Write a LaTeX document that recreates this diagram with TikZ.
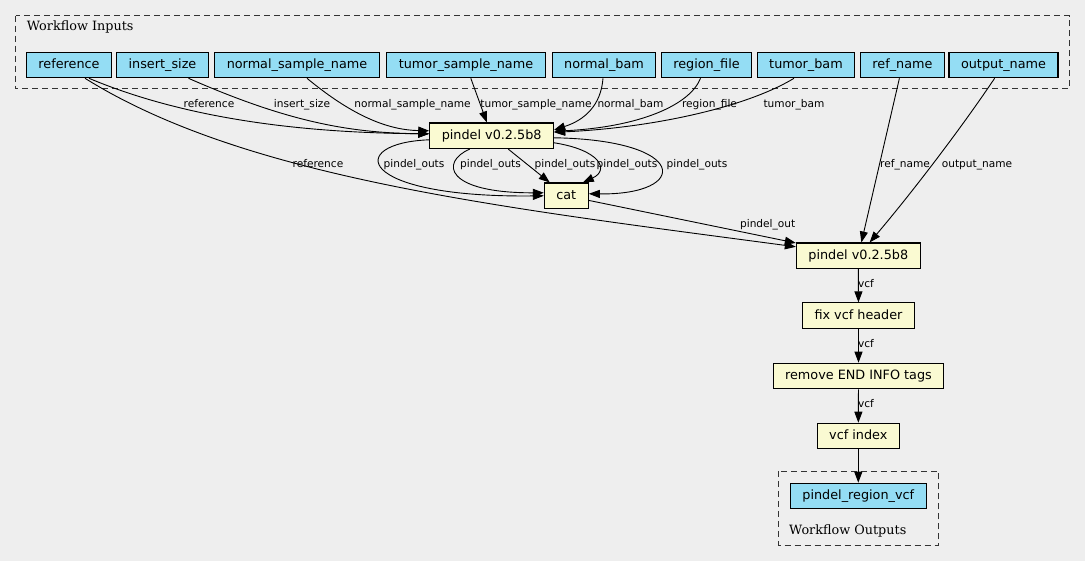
\documentclass[tikz,border=0pt]{standalone}
\usepackage{fontspec}
\setmainfont{DejaVu Serif}
\setsansfont{DejaVu Sans}
\usetikzlibrary{arrows.meta}
\definecolor{bggray}{HTML}{EEEEEE}
\definecolor{inblue}{HTML}{94DDF4}
\definecolor{stepyellow}{HTML}{FAFAD2}
\newcommand{\nodefont}{\sffamily\fontsize{12.8}{14}\selectfont}
\newcommand{\edgefont}{\sffamily\fontsize{10.6}{12}\selectfont}
\newcommand{\clusfont}{\rmfamily\fontsize{12.8}{14}\selectfont}

\begin{document}
\begin{tikzpicture}[x=1pt,y=-1pt,
		inp/.style={draw,fill=inblue,line width=1.1pt,minimum height=25.5pt,inner xsep=12pt,inner ysep=0pt,text height=9.5pt,text depth=2.5pt,font=\nodefont},
		stp/.style={inp,fill=stepyellow},
		lbl/.style={font=\edgefont,inner sep=0pt,text height=7.8pt,text depth=2.2pt},
		flow/.style={line width=.9pt,-{Triangle[length=11pt,width=8pt]}},
		clus/.style={draw=black!80,line width=1pt,dash pattern=on 6pt off 4pt}]
		\fill[bggray] (0,0) rectangle (1085,561);
		\draw[clus] (15.7,15.7) rectangle (1069.5,89);
		\node[font=\clusfont,anchor=west,inner sep=0pt] (intitle) at (26.7,27.3) {Workflow Inputs};
		\draw[clus] (778.7,471.3) rectangle (938.7,545.3);
		\node[font=\clusfont,anchor=west,inner sep=0pt] (outtitle) at (789,531) {Workflow Outputs};

		\node[inp] (reference) at (69,65) {reference};
		\node[inp] (insertsize) at (162.5,65) {insert\_size};
		\node[inp] (normalname) at (297,65) {normal\_sample\_name};
		\node[inp] (tumorname) at (466,65) {tumor\_sample\_name};
		\node[inp] (normalbam) at (604,65) {normal\_bam};
		\node[inp] (regionfile) at (706.5,65) {region\_file};
		\node[inp] (tumorbam) at (806,65) {tumor\_bam};
		\node[inp] (refname) at (902.5,65) {ref\_name};
		\node[inp] (outname) at (1003.5,65) {output\_name};

		\node[stp] (pindelA) at (491.7,135.8) {pindel v0.2.5b8};
		\node[stp] (cat) at (566.3,195.8) {cat};
		\node[stp] (pindelB) at (858.3,255.8) {pindel v0.2.5b8};
		\node[stp] (fixhdr) at (858.5,315.7) {fix vcf header};
		\node[stp] (rmtags) at (858.5,376) {remove END INFO tags};
		\node[stp] (vcfidx) at (858.3,436) {vcf index};
		\node[inp] (regionvcf) at (858.3,496) {pindel\_region\_vcf};

		\draw[flow] ([xshift=20pt]reference.south) .. controls (200,125) and (330,133) .. ([yshift=2pt]pindelA.west) node[lbl] at (209,105) {reference};
		\draw[flow] ([xshift=16pt]reference.south) .. controls (245,178) and (497,207) .. ([yshift=9pt]pindelB.west) node[lbl] at (318,165) {reference};
		\draw[flow] ([xshift=26pt]insertsize.south) .. controls (288,122) and (350,133) .. ([yshift=2pt]pindelA.west) node[lbl] at (302,105) {insert\_size};
		\draw[flow] ([xshift=10pt]normalname.south) .. controls (355,118) and (390,130) .. ([yshift=5pt]pindelA.west) node[lbl] at (412.5,105) {normal\_sample\_name};
		\draw[flow] (tumorname) -- (pindelA) node[lbl] at (536,105) {tumor\_sample\_name};
		\draw[flow] ([xshift=-1pt]normalbam.south) .. controls (601,105) and (585,120) .. ([yshift=6pt]pindelA.east) node[lbl] at (630.5,105) {normal\_bam};
		\draw[flow] ([xshift=-6pt]regionfile.south) .. controls (690,105) and (640,127) .. ([yshift=4.5pt]pindelA.east) node[lbl] at (709.5,105) {region\_file};
		\draw[flow] ([xshift=-12pt]tumorbam.south) .. controls (745,108) and (650,128) .. ([yshift=3.5pt]pindelA.east) node[lbl] at (794,105) {tumor\_bam};

		\draw[flow] ([yshift=-4pt]pindelA.west) .. controls (345,143) and (355,198) .. (cat.west) node[lbl] at (414,165) {pindel\_outs};
		\draw[flow] ([xshift=-22pt]pindelA.south) .. controls (440,162) and (445,193) .. ([yshift=3pt]cat.west) node[lbl] at (490.5,165) {pindel\_outs};
		\draw[flow] (pindelA) -- (cat) node[lbl] at (565,165) {pindel\_outs};
		\draw[flow] ([yshift=-7pt]pindelA.east) .. controls (600,150) and (610,170) .. ([xshift=-6pt]cat.north east) node[lbl] at (627,165) {pindel\_outs};
		\draw[flow] ([yshift=-2pt]pindelA.east) .. controls (690,140) and (690,195) .. ([yshift=2pt]cat.east) node[lbl] at (697,165) {pindel\_outs};

		\draw[flow] (cat) -- (pindelB) node[lbl] at (767.7,225) {pindel\_out};
		\draw[flow] (refname) -- (pindelB) node[lbl] at (905,165) {ref\_name};
		\draw[flow] (outname) .. controls (960,130) and (910,195) .. (pindelB) node[lbl] at (977,165) {output\_name};

		\draw[flow] (pindelB) -- (fixhdr) node[lbl] at (866,285) {vcf};
		\draw[flow] (fixhdr) -- (rmtags) node[lbl] at (866,345) {vcf};
		\draw[flow] (rmtags) -- (vcfidx) node[lbl] at (866,405) {vcf};
		\draw[flow] (vcfidx) -- (regionvcf);
	\end{tikzpicture}
\end{document}
